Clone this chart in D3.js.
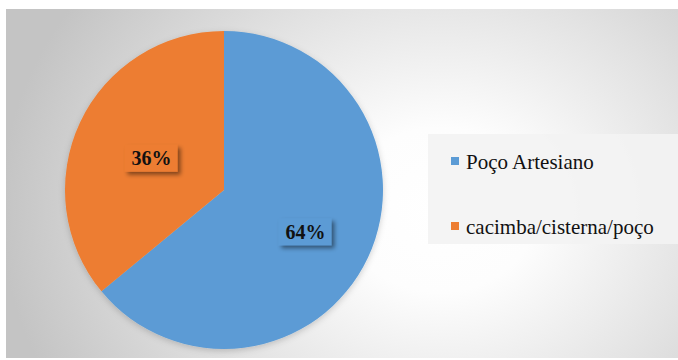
<!DOCTYPE html>
<html>
<head>
<meta charset="utf-8">
<script src="https://cdn.jsdelivr.net/npm/d3@7"></script>
<style>
  html, body { margin: 0; padding: 0; background: #ffffff; }
  svg { display: block; }
</style>
</head>
<body>
<svg id="chart" width="678" height="360"></svg>
<script>
// Water source shares
const categories = ["Poço Artesiano", "cacimba/cisterna/poço"];
const values = [64, 36];
const colors = ["#5B9BD5", "#ED7D31"];

const W = 678, H = 360;
const serif = "Liberation Serif, Times New Roman, DejaVu Serif, serif";
const svg = d3.select("#chart");
const defs = svg.append("defs");

// Background radial gradient of the chart area
const bg = defs.append("radialGradient")
  .attr("id", "bgGrad")
  .attr("gradientUnits", "userSpaceOnUse")
  .attr("cx", 440).attr("cy", 210).attr("r", 440)
  .attr("gradientTransform", "translate(440,210) scale(1,0.85) translate(-440,-210)");
bg.append("stop").attr("offset", 0).attr("stop-color", "#ffffff");
bg.append("stop").attr("offset", 0.22).attr("stop-color", "#fdfdfd");
bg.append("stop").attr("offset", 0.6).attr("stop-color", "#e2e2e2");
bg.append("stop").attr("offset", 1).attr("stop-color", "#c4c4c4");

// Soft drop shadows
const sh = defs.append("filter").attr("id", "labelShadow")
  .attr("x", "-30%").attr("y", "-30%").attr("width", "160%").attr("height", "180%");
sh.append("feDropShadow").attr("dx", 3).attr("dy", 3).attr("stdDeviation", 2.2)
  .attr("flood-color", "#000").attr("flood-opacity", 0.45);

const pieSh = defs.append("filter").attr("id", "pieShadow")
  .attr("x", "-10%").attr("y", "-10%").attr("width", "120%").attr("height", "120%");
pieSh.append("feDropShadow").attr("dx", 0).attr("dy", 2).attr("stdDeviation", 3)
  .attr("flood-color", "#000").attr("flood-opacity", 0.18);

svg.append("rect")
  .attr("x", 6).attr("y", 9)
  .attr("width", W - 6).attr("height", 349)
  .attr("fill", "url(#bgGrad)");

// Pie
const cx = 224, cy = 190, R = 159;
const pie = d3.pie().sort(null).value(d => d)(values);
const arc = d3.arc().innerRadius(0).outerRadius(R);

const g = svg.append("g").attr("transform", `translate(${cx},${cy})`);
g.append("g").attr("filter", "url(#pieShadow)")
  .selectAll("path").data(pie).join("path")
  .attr("d", arc)
  .attr("fill", (d, i) => colors[i]);

// Data labels with boxed, shadowed background
const labelArc = d3.arc().innerRadius(R * 0.58).outerRadius(R * 0.58);
const labelOffsets = [[-2, 3], [11, 8]];
const labels = g.selectAll("g.lbl").data(pie).join("g")
  .attr("class", "lbl")
  .attr("transform", (d, i) => {
    const c = labelArc.centroid(d);
    return `translate(${c[0] + labelOffsets[i][0]},${c[1] + labelOffsets[i][1]})`;
  });
labels.append("rect")
  .attr("x", -27).attr("y", -14).attr("width", 53).attr("height", 27)
  .attr("fill", (d, i) => colors[i])
  .attr("filter", "url(#labelShadow)");
labels.append("text")
  .attr("text-anchor", "middle")
  .attr("y", 6.5)
  .style("font-family", serif)
  .style("font-weight", "bold")
  .style("font-size", "20px")
  .attr("fill", "#111")
  .text(d => d.data + "%");

// Legend
const legend = svg.append("g");
legend.append("rect")
  .attr("x", 428).attr("y", 134).attr("width", W - 428).attr("height", 110)
  .attr("fill", "#f3f3f3").attr("fill-opacity", 0.9);
const items = legend.selectAll("g.item").data(categories).join("g")
  .attr("class", "item")
  .attr("transform", (d, i) => `translate(451,${157 + i * 65})`);
items.append("rect")
  .attr("width", 8).attr("height", 8)
  .attr("fill", (d, i) => colors[i]);
items.append("text")
  .attr("x", 15).attr("y", 12)
  .style("font-family", serif)
  .style("font-size", "21px")
  .attr("fill", "#111")
  .text(d => d);
</script>
</body>
</html>
